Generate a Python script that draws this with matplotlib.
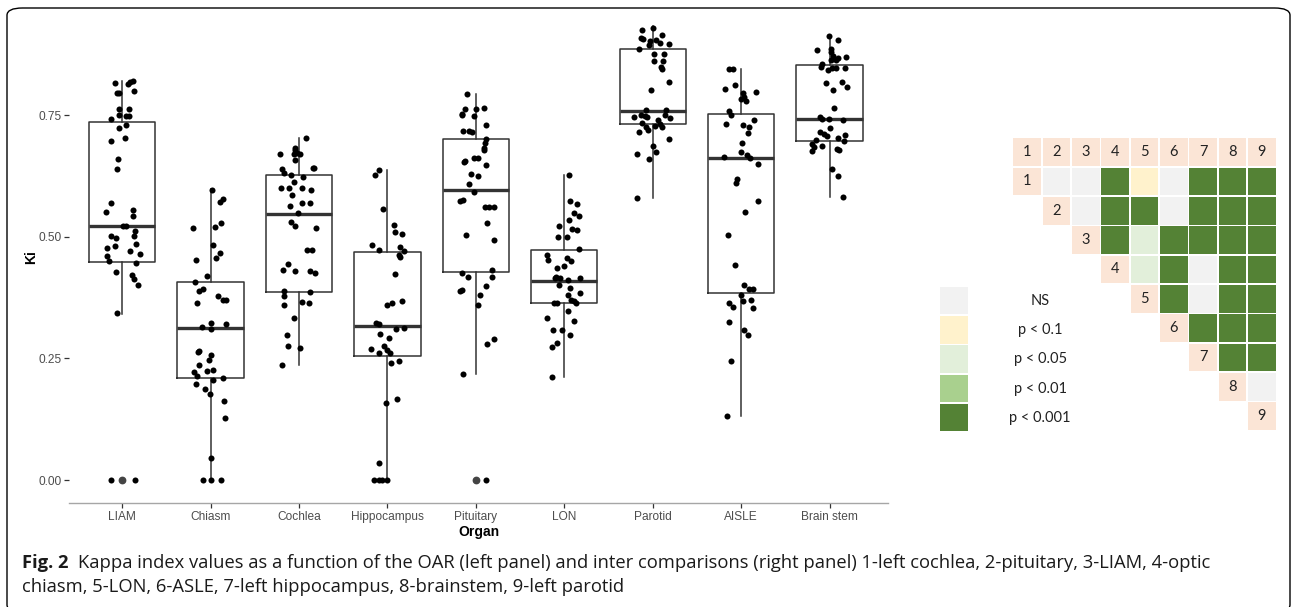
import matplotlib
matplotlib.use("Agg")
import matplotlib.pyplot as plt
from matplotlib.patches import Rectangle, FancyBboxPatch

#%% data

organs = ["LIAM", "Chiasm", "Cochlea", "Hippocampus", "Pituitary", "LON", "Parotid", "AISLE", "Brain stem"]

# jitter offsets (category units) and Ki values of the dots
liam_dx = [-0.08, -0.06, -0.04, 0.07, 0.09, 0.12, 0.13, -0.03, 0.08, -0.12, -0.04, 0.04, 0.08, -0.03, 0.05,
           0.03, -0.13, -0.05, -0.06, -0.12, -0.18, 0.12, 0.12, 0.01, 0.04, -0.12, -0.07, 0.15, 0.13, -0.17,
           -0.08, 0.16, 0.09, 0.20, -0.17, -0.15, 0.16, -0.07, 0.11, 0.13, 0.18, -0.06, -0.13, 0.15]
liam_ki = [0.816, 0.796, 0.795, 0.814, 0.818, 0.821, 0.799, 0.762, 0.763, 0.743, 0.750, 0.749, 0.748, 0.723, 0.729,
           0.703, 0.697, 0.660, 0.639, 0.569, 0.551, 0.555, 0.542, 0.522, 0.522, 0.501, 0.498, 0.511, 0.502, 0.477,
           0.482, 0.485, 0.471, 0.464, 0.461, 0.451, 0.447, 0.427, 0.422, 0.413, 0.400, 0.344, 0.0, 0.0]

chiasm_dx = [0.02, 0.14, 0.11, -0.20, 0.12, 0.05, 0.03, 0.11, 0.06, -0.16, -0.04, -0.18, -0.08, -0.13, 0.08,
             0.14, 0.17, -0.15, -0.10, 0.0, 0.0, 0.17, -0.13, -0.14, 0.0, -0.02, -0.13, 0.03, -0.04, -0.19,
             -0.15, 0.03, 0.14, -0.16, -0.06, -0.01, 0.15, 0.16, 0.0, -0.08, 0.0, 0.12]
chiasm_ki = [0.597, 0.578, 0.571, 0.518, 0.529, 0.521, 0.483, 0.467, 0.457, 0.452, 0.420, 0.408, 0.393, 0.388, 0.379,
             0.371, 0.371, 0.365, 0.315, 0.310, 0.322, 0.321, 0.266, 0.263, 0.258, 0.247, 0.236, 0.227, 0.225, 0.223,
             0.214, 0.205, 0.209, 0.197, 0.188, 0.176, 0.162, 0.127, 0.046, 0.0, 0.0, 0.0]

cochlea_dx = [0.08, -0.05, -0.05, -0.02, 0.01, -0.06, -0.21, -0.05, 0.17, 0.16, -0.19, -0.17, -0.09, 0.05, -0.06,
              -0.20, -0.11, 0.03, 0.14, -0.08, 0.04, 0.13, -0.10, -0.01, -0.09, -0.04, 0.19, 0.09, 0.15, -0.12,
              -0.18, -0.04, 0.12, 0.18, -0.17, 0.13, -0.17, 0.03, 0.11, -0.17, -0.06, -0.14, -0.12, 0.01, -0.19]
cochlea_ki = [0.703, 0.683, 0.679, 0.673, 0.671, 0.671, 0.670, 0.658, 0.642, 0.642, 0.640, 0.632, 0.628, 0.622, 0.612,
              0.601, 0.601, 0.601, 0.596, 0.586, 0.570, 0.570, 0.563, 0.548, 0.531, 0.522, 0.518, 0.473, 0.472, 0.445,
              0.432, 0.430, 0.430, 0.426, 0.388, 0.387, 0.379, 0.366, 0.365, 0.360, 0.334, 0.299, 0.275, 0.271, 0.236]

hippo_dx = [-0.09, -0.14, -0.05, 0.07, 0.09, 0.17, -0.17, 0.14, -0.09, 0.19, 0.13, 0.14, 0.09, 0.16, 0.05,
            -0.01, -0.13, -0.10, 0.19, 0.10, -0.08, 0.02, -0.04, -0.18, 0.0, 0.03, -0.10, 0.04, 0.13, -0.02,
            0.11, -0.09, -0.15, -0.10, -0.06, -0.01]
hippo_ki = [0.638, 0.627, 0.558, 0.525, 0.510, 0.505, 0.483, 0.479, 0.473, 0.470, 0.463, 0.458, 0.424, 0.368, 0.364,
            0.360, 0.323, 0.321, 0.312, 0.310, 0.301, 0.292, 0.275, 0.270, 0.268, 0.262, 0.261, 0.240, 0.245, 0.159,
            0.166, 0.036, 0.0, 0.0, 0.0, 0.0]

pit_dx = [-0.10, 0.09, 0.0, -0.12, -0.16, -0.16, -0.02, 0.12, -0.15, -0.08, -0.04, 0.12, 0.10, 0.09, 0.09,
          -0.12, -0.13, -0.02, 0.02, 0.12, -0.06, 0.02, -0.08, -0.02, -0.15, -0.18, 0.10, 0.15, 0.20, 0.13,
          -0.11, 0.20, 0.18, -0.16, -0.09, 0.18, 0.12, -0.18, -0.16, 0.05, 0.03, 0.20, 0.13, -0.15, 0.11]
pit_ki = [0.794, 0.765, 0.762, 0.762, 0.753, 0.750, 0.749, 0.729, 0.718, 0.717, 0.716, 0.702, 0.693, 0.682, 0.678,
          0.655, 0.654, 0.661, 0.661, 0.647, 0.630, 0.625, 0.608, 0.592, 0.575, 0.573, 0.561, 0.561, 0.561, 0.529,
          0.503, 0.493, 0.432, 0.425, 0.418, 0.417, 0.399, 0.389, 0.390, 0.380, 0.360, 0.290, 0.279, 0.218, 0.0]

lon_dx = [0.05, 0.07, 0.14, 0.11, 0.17, 0.05, -0.06, 0.09, 0.14, -0.07, 0.03, 0.17, -0.20, -0.18, 0.03,
          0.08, 0.0, -0.08, -0.09, -0.05, -0.11, 0.18, 0.04, -0.06, 0.06, 0.04, 0.18, 0.08, 0.11, 0.13,
          -0.12, -0.08, 0.04, -0.20, 0.11, -0.13, -0.03, 0.06, -0.08, -0.14, -0.14]
lon_ki = [0.627, 0.573, 0.568, 0.549, 0.543, 0.535, 0.523, 0.517, 0.514, 0.500, 0.500, 0.475, 0.462, 0.453, 0.456,
          0.450, 0.441, 0.436, 0.418, 0.416, 0.416, 0.416, 0.412, 0.402, 0.395, 0.380, 0.384, 0.371, 0.368, 0.365,
          0.364, 0.364, 0.348, 0.334, 0.327, 0.308, 0.309, 0.299, 0.281, 0.274, 0.211]

parotid_dx = [0.0, -0.12, -0.13, -0.11, 0.11, -0.03, 0.04, 0.08, -0.04, 0.18, -0.15, 0.01, 0.13, 0.01, 0.12,
              0.09, 0.10, 0.18, -0.02, -0.08, 0.15, -0.13, -0.09, -0.21, -0.06, 0.14, 0.20, 0.06, -0.12, 0.08,
              0.03, -0.08, 0.10, -0.15, -0.05, 0.18, 0.0, -0.18, 0.04, -0.04, -0.18]
parotid_ki = [0.930, 0.925, 0.908, 0.907, 0.914, 0.902, 0.904, 0.899, 0.894, 0.896, 0.886, 0.875, 0.875, 0.862, 0.862,
              0.848, 0.844, 0.818, 0.801, 0.760, 0.760, 0.750, 0.748, 0.747, 0.747, 0.750, 0.745, 0.740, 0.733, 0.732,
              0.728, 0.725, 0.726, 0.715, 0.719, 0.702, 0.687, 0.671, 0.674, 0.659, 0.579]

aisle_dx = [-0.14, -0.09, -0.07, -0.18, 0.02, 0.17, 0.03, 0.0, 0.05, -0.14, -0.12, 0.15, -0.17, 0.02, 0.09,
            0.08, 0.01, 0.0, -0.19, 0.07, 0.10, 0.19, -0.05, -0.06, 0.19, 0.04, -0.15, -0.07, 0.03, 0.09,
            0.13, 0.0, 0.11, 0.02, -0.14, -0.09, 0.13, -0.14, 0.03, 0.08, -0.12, -0.16]
aisle_ki = [0.845, 0.845, 0.813, 0.803, 0.795, 0.797, 0.788, 0.784, 0.779, 0.758, 0.750, 0.740, 0.731, 0.729, 0.726,
            0.713, 0.693, 0.675, 0.664, 0.668, 0.662, 0.650, 0.618, 0.610, 0.574, 0.551, 0.503, 0.443, 0.400, 0.392,
            0.392, 0.380, 0.371, 0.368, 0.363, 0.355, 0.354, 0.324, 0.308, 0.298, 0.245, 0.132]

brain_dx = [-0.01, 0.10, -0.14, 0.02, 0.02, 0.04, 0.18, 0.10, 0.02, 0.07, -0.09, -0.10, 0.03, 0.07, 0.17,
            -0.02, -0.04, 0.14, 0.04, 0.20, 0.05, -0.11, -0.01, 0.15, -0.09, 0.0, -0.11, -0.06, -0.03, 0.09,
            0.17, -0.15, 0.16, -0.20, -0.18, -0.09, -0.20, 0.08, 0.11, 0.03, 0.09, 0.15]
brain_ki = [0.912, 0.904, 0.884, 0.885, 0.879, 0.871, 0.870, 0.868, 0.864, 0.864, 0.856, 0.849, 0.847, 0.847, 0.846,
            0.842, 0.817, 0.819, 0.801, 0.808, 0.765, 0.747, 0.742, 0.741, 0.743, 0.723, 0.716, 0.711, 0.708, 0.704,
            0.710, 0.698, 0.697, 0.690, 0.684, 0.686, 0.677, 0.681, 0.678, 0.640, 0.626, 0.581]

all_dx = [liam_dx, chiasm_dx, cochlea_dx, hippo_dx, pit_dx, lon_dx, parotid_dx, aisle_dx, brain_dx]
all_ki = [liam_ki, chiasm_ki, cochlea_ki, hippo_ki, pit_ki, lon_ki, parotid_ki, aisle_ki, brain_ki]

# box statistics as drawn
box_q1 = [0.449, 0.209, 0.386, 0.256, 0.428, 0.364, 0.731, 0.385, 0.696]
box_med = [0.522, 0.313, 0.547, 0.317, 0.596, 0.410, 0.758, 0.662, 0.742]
box_q3 = [0.736, 0.408, 0.627, 0.469, 0.700, 0.472, 0.885, 0.753, 0.853]
whisk_lo = [0.342, 0.0, 0.236, 0.0, 0.218, 0.211, 0.579, 0.132, 0.581]
whisk_hi = [0.820, 0.599, 0.703, 0.637, 0.794, 0.627, 0.933, 0.845, 0.912]
outliers = [[0.0], [], [], [], [0.0], [], [], [], []]

# pairwise comparison grid: 0 NS, 1 p<0.1, 2 p<0.05, 3 p<0.01, 4 p<0.001 (upper triangle)
sig = [
    [None, 0, 0, 4, 1, 0, 4, 4, 4],
    [None, None, 0, 4, 4, 0, 4, 4, 4],
    [None, None, None, 4, 2, 4, 4, 4, 4],
    [None, None, None, None, 2, 4, 0, 4, 4],
    [None, None, None, None, None, 4, 0, 4, 4],
    [None, None, None, None, None, None, 4, 4, 4],
    [None, None, None, None, None, None, None, 4, 4],
    [None, None, None, None, None, None, None, None, 0],
]
sig_labels = ["NS", "p < 0.1", "p < 0.05", "p < 0.01", "p < 0.001"]
sig_colors = ["#f2f2f2", "#fff2cc", "#e2efda", "#a9d08e", "#548235"]
label_color = "#fbe5d6"

#%% figure

W, H = 1292, 607
fig = plt.figure(figsize=(W / 100, H / 100), dpi=100)

# rounded frame around the figure
frame = FancyBboxPatch((7 / W, 1 - 612 / H), 1283 / W, 604 / H,
                       boxstyle="round,pad=0,rounding_size=0.012",
                       transform=fig.transFigure, fill=False, ec="black", lw=1.0)
fig.patches.append(frame)

#%% left panel: box plot with jittered points

ax = fig.add_axes([69 / W, 1 - 503 / H, (888 - 69) / W, (503 - 12) / H])
tick_font = ["Liberation Sans", "DejaVu Sans"]

stats = []
for i in range(len(organs)):
    stats.append(dict(med=box_med[i], q1=box_q1[i], q3=box_q3[i],
                      whislo=whisk_lo[i], whishi=whisk_hi[i], fliers=outliers[i]))
pos = list(range(1, len(organs) + 1))
ax.bxp(stats, positions=pos, widths=0.75, showcaps=False, patch_artist=False,
       boxprops=dict(color="#333333", lw=1.1),
       whiskerprops=dict(color="#333333", lw=1.1),
       medianprops=dict(color="#333333", lw=2.4),
       flierprops=dict(marker="o", markerfacecolor="#444444", markeredgecolor="#444444", markersize=4.6))

for i in range(len(organs)):
    xs = [pos[i] + d for d in all_dx[i]]
    ax.scatter(xs, all_ki[i], s=19, color="black", zorder=3, linewidths=0)

ax.set_xlim(0.4, 9.66)
ax.set_ylim(-0.047, 0.962)
ax.set_xticks(pos)
ax.set_xticklabels(organs, fontsize=8.6, family=tick_font, color="#4d4d4d")
ax.set_yticks([0, 0.25, 0.5, 0.75])
ax.set_yticklabels(["0.00", "0.25", "0.50", "0.75"], fontsize=8.6, family=tick_font, color="#4d4d4d")
ax.tick_params(axis="both", color="#333333", length=3.5, width=0.9, pad=2)
for s in ["top", "right", "left"]:
    ax.spines[s].set_visible(False)
ax.spines["bottom"].set_color("#a6a6a6")
ax.spines["bottom"].set_linewidth(1.0)
ax.set_xlabel("Organ", fontsize=10, fontweight="bold", family=tick_font, labelpad=2)
ax.set_ylabel("Ki", fontsize=10, fontweight="bold", family=tick_font, labelpad=0)

#%% right panel: comparison grid and legend

gx = fig.add_axes([939.3 / W, 1 - 430.8 / H, (1276.5 - 939.3) / W, (430.8 - 137.5) / H])
gx.set_xlim(-2.0, 9.5)
gx.set_ylim(9.5, -0.5)
gx.axis("off")
cell = 0.94
grid_font = ["Lato", "DejaVu Sans"]

def draw_cell(ax_, c, r, color, text=None):
    ax_.add_patch(Rectangle((c - cell / 2, r - cell / 2), cell, cell, facecolor=color, edgecolor="none"))
    if text is not None:
        ax_.text(c, r, text, ha="center", va="center", fontsize=10.5, family=grid_font, color="#222222")

for c in range(1, 10):
    draw_cell(gx, c, 0, label_color, str(c))
for r in range(1, 10):
    draw_cell(gx, r, r, label_color, str(r))
for r in range(len(sig)):
    for c in range(len(sig[r])):
        if sig[r][c] is not None:
            draw_cell(gx, c + 1, r + 1, sig_colors[sig[r][c]])

for k in range(len(sig_labels)):
    draw_cell(gx, -1.5, 5 + k + 0.06, sig_colors[k])
    gx.text(1.44, 5 + k + 0.06, sig_labels[k], ha="center", va="center", fontsize=10.5,
            family=grid_font, color="#222222")

#%% caption

cap_font = ["Open Sans", "DejaVu Sans"]
t1 = fig.text(22 / W, 1 - 563 / H, "Fig. 2", fontsize=13.2, fontweight="bold", family=cap_font,
              va="center", ha="left", color="#1a1a1a")
fig.canvas.draw()
bb = t1.get_window_extent()
fig.text((bb.x1 + 10) / W, 1 - 563 / H,
         "Kappa index values as a function of the OAR (left panel) and inter comparisons (right panel) "
         "1-left cochlea, 2-pituitary, 3-LIAM, 4-optic",
         fontsize=13.2, family=cap_font, va="center", ha="left", color="#1a1a1a")
fig.text(22 / W, 1 - 587 / H, "chiasm, 5-LON, 6-ASLE, 7-left hippocampus, 8-brainstem, 9-left parotid",
         fontsize=13.2, family=cap_font, va="center", ha="left", color="#1a1a1a")

fig.savefig("out.png", dpi=100)
